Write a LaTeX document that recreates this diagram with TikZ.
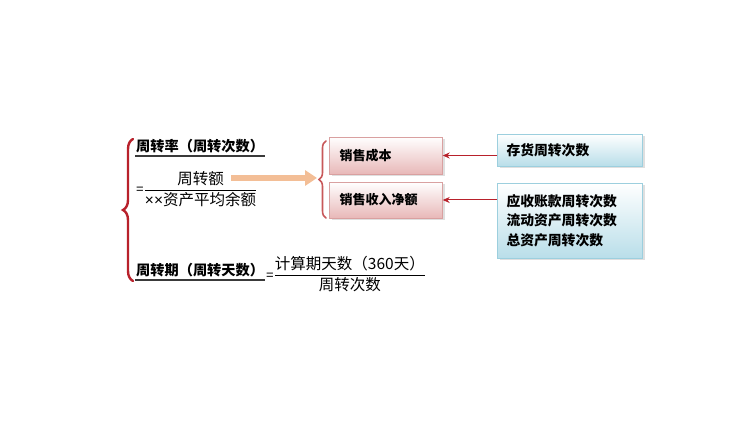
\documentclass[tikz,border=0pt]{standalone}
\usepackage{amsmath}
\usepackage{fontspec}
\setmainfont{Noto Sans CJK SC}
\newfontfamily\latina{Liberation Sans}
\usepackage{tikz}
\usetikzlibrary{arrows.meta, positioning, decorations.pathreplacing, shadows, calc}
\definecolor{granate}{HTML}{B8212B}
\definecolor{rojizo}{HTML}{C8585A}
\definecolor{rosaborde}{HTML}{D9A0A0}
\definecolor{rosafondo}{HTML}{E8B8B8}
\definecolor{celborde}{HTML}{9CCFDE}
\definecolor{celfondo}{HTML}{B9DEE9}
\definecolor{durazno}{HTML}{F3BE96}
\definecolor{grisosc}{HTML}{3A3A3A}
\newcommand{\igual}{{\fontsize{13}{15}\selectfont\latina =}}
\tikzset{
  every picture/.style={font=\fontsize{13}{16}\selectfont, >=Stealth},
  etiq/.style={font=\fontsize{14.2}{17}\selectfont\bfseries, inner sep=1pt, anchor=west},
  formula/.style={font=\fontsize{15.5}{18}\selectfont, inner sep=1pt, anchor=west},
  rosa/.style={draw=rosaborde, top color=white, bottom color=rosafondo, thin,
               text width=93pt, inner xsep=10pt, minimum height=37pt, align=left,
               font=\fontsize{13}{16}\selectfont\bfseries,
               drop shadow={opacity=0.25, shadow xshift=2pt, shadow yshift=-2pt}},
  celeste/.style={draw=celborde, top color=white, bottom color=celfondo, thin,
               text width=127pt, inner xsep=9pt, align=left,
               font=\fontsize{13.8}{19.5}\selectfont\bfseries,
               drop shadow={opacity=0.25, shadow xshift=2pt, shadow yshift=-2pt}},
  flecha/.style={-{Stealth[length=7pt,width=6pt]}, granate, line width=1pt},
  gorda/.style={-{Triangle[length=12pt,width=15pt]}, durazno, line width=6.5pt},
  llave/.style={decorate, decoration={brace, amplitude=#1}, line cap=round},
  subraya/.style={grisosc, line width=1.8pt},
}

\begin{document}
\begin{tikzpicture}[x=1pt, y=-1pt]
  \fill[white] (0,0) rectangle (756,430);
  \useasboundingbox (0,0) rectangle (756,430);

  \node[etiq] (tasa) at (135,146) {周转率（周转次数）};
  \node[formula] (frac1) at (135,189) {\igual$\dfrac{\text{周转额}}{\text{{\latina ××}资产平均余额}}$};
  \node[etiq] (periodo) at (135,270) {周转期（周转天数）};
  \node[formula] (frac2) at (265,274) {\igual$\dfrac{\text{计算期天数（360天）}}{\text{周转次数}}$};
  \draw[subraya] ([yshift=-2pt]tasa.south west) -- ([yshift=-2pt]tasa.south east);
  \draw[subraya] ([yshift=-2pt]periodo.south west) -- ([yshift=-2pt]periodo.south east);

  \draw[llave=10pt, granate, line width=2.4pt] (133,281) -- (133,139);
  \draw[llave=7pt, rojizo, line width=1.6pt] (326,218) -- (326,141);

  \node[rosa] (costo) at (386,155.5) {销售成本};
  \node[rosa, minimum height=36pt] (ventas) at (386,200) {销售收入净额};
  \node[celeste, minimum height=32pt] (inv) at (570,150) {存货周转次数};
  \node[celeste, minimum height=75pt] (otros) at (570,220.5) {应收账款周转次数\\流动资产周转次数\\总资产周转次数};

  \coordinate (numfin) at (231,178);
  \coordinate (punta) at (317,178);
  \draw[gorda] (numfin) -- (punta);
  \draw[flecha] (costo.east -| inv.west) -- (costo.east);
  \draw[flecha] (ventas.east -| otros.west) -- (ventas.east);
\end{tikzpicture}
\end{document}
